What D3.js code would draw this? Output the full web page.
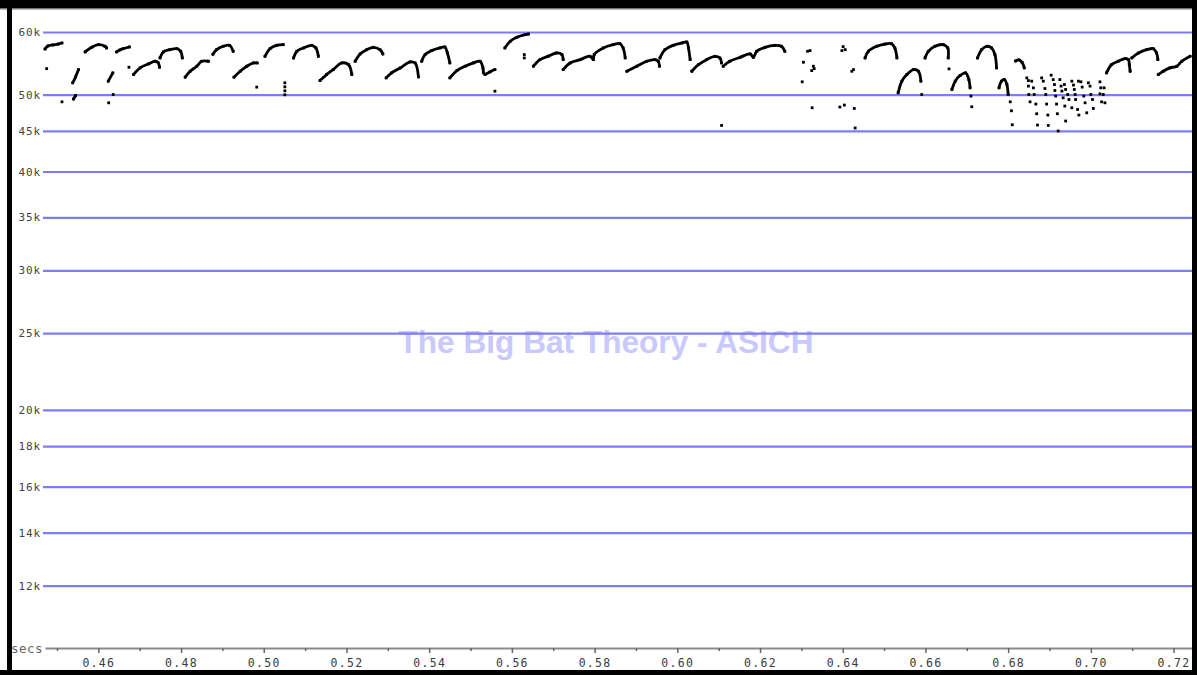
<!DOCTYPE html>
<html>
<head>
<meta charset="utf-8">
<script src="https://cdn.jsdelivr.net/npm/d3@7"></script>
<style>
  body { margin: 0; background: #fff; }
  #sonogram { width: 1197px; height: 675px; }
  #sonogram text { font-family: "DejaVu Sans Mono", monospace; }
</style>
</head>
<body>
<div id="sonogram"></div>
<script>

// ------------------------ data (time in secs, frequency in kHz) ------------------------------

var freqTicks = [12, 14, 16, 18, 20, 25, 30, 35, 40, 45, 50, 60];
var timeTicks = [0.46, 0.48, 0.50, 0.52, 0.54, 0.56, 0.58, 0.60, 0.62, 0.64, 0.66, 0.68, 0.70, 0.72];
var minorTicks = [0.45, 0.47, 0.49, 0.51, 0.53, 0.55, 0.57, 0.59, 0.61, 0.63, 0.65, 0.67, 0.69, 0.71];

// calls 0.447 - 0.538
var callsA = [
	[[.4471,57.11],[.4478,57.61],[.4490,57.78],[.4503,57.94],[.4512,58.11]],
	[[.4538,51.76],[.4545,52.66],[.4552,53.79]],
	[[.4540,49.38],[.4545,49.88]],
	[[.4568,56.62],[.4584,57.39],[.4600,57.83],[.4616,57.56],[.4620,57.28]],
	[[.4624,52.01],[.4635,53.28]],
	[[.4644,56.62],[.4652,56.95],[.4660,57.16],[.4675,57.44]],
	[[.4685,53.02],[.4701,54.05],[.4721,54.68],[.4737,55.11],[.4745,54.84],[.4748,54.16]],
	[[.4749,55.64],[.4757,56.62],[.4773,57.00],[.4790,57.16],[.4799,56.73],[.4803,55.64]],
	[[.4810,52.62],[.4822,53.53],[.4838,54.32],[.4850,55.11],[.4866,55.11]],
	[[.4877,56.24],[.4886,57.00],[.4902,57.56],[.4917,57.72],[.4926,56.73]],
	[[.4928,52.62],[.4943,53.53],[.4959,54.32],[.4975,54.84],[.4984,54.84]],
	[[.5003,55.91],[.5015,57.16],[.5031,57.72],[.5047,57.83]],
	[[.5072,55.64],[.5080,56.73],[.5096,57.28],[.5116,57.72],[.5126,57.28],[.5132,55.91]],
	[[.5136,52.10],[.5152,53.02],[.5168,53.79],[.5189,54.84],[.5205,54.57],[.5213,53.02]],
	[[.5221,55.11],[.5233,56.29],[.5249,57.00],[.5265,57.39],[.5281,57.00],[.5288,56.29]],
	[[.5296,52.51],[.5309,53.28],[.5330,54.05],[.5354,55.00],[.5366,54.84],[.5374,52.66]]
];

// calls 0.538 - 0.626
var callsB = [
	[[.5382,55.11],[.5390,56.18],[.5406,56.84],[.5426,57.28],[.5438,57.44],[.5444,56.45],[.5450,54.84]],
	[[.5450,52.51],[.5467,53.63],[.5487,54.32],[.5507,54.84],[.5523,55.11],[.5530,54.05],[.5531,53.28]],
	[[.5535,53.02],[.5547,53.43],[.5559,53.79]],
	[[.5583,57.28],[.5596,58.40],[.5612,59.09],[.5632,59.54],[.5640,59.65]],
	[[.5652,54.32],[.5668,55.37],[.5688,55.93],[.5708,56.45],[.5721,56.18],[.5724,55.37]],
	[[.5724,53.79],[.5741,54.84],[.5765,55.37],[.5789,55.91],[.5797,55.37],[.5799,56.18],[.5821,57.28],[.5845,57.83],[.5861,58.00],[.5869,57.28],[.5874,55.64]],
	[[.5878,53.53],[.5902,54.32],[.5926,55.11],[.5946,55.37],[.5954,55.11],[.5957,54.32]],
	[[.5958,55.64],[.5970,57.00],[.5990,57.72],[.6011,58.11],[.6023,58.28],[.6027,57.28],[.6031,55.37]],
	[[.6035,53.53],[.6051,54.57],[.6071,55.37],[.6091,55.91],[.6103,55.64],[.6107,54.84]],
	[[.6111,54.32],[.6127,55.11],[.6152,55.75],[.6176,56.29],[.6184,55.75],[.6192,56.73],[.6212,57.39],[.6236,57.72],[.6252,57.56],[.6260,56.73]]
];

// calls 0.645 - 0.724
var callsC = [
	[[.6454,55.64],[.6462,56.73],[.6482,57.56],[.6502,57.94],[.6518,57.99],[.6526,57.28],[.6531,55.64]],
	[[.6534,50.28],[.6543,52.01],[.6555,53.02],[.6571,53.79],[.6583,53.53],[.6589,52.01]],
	[[.6599,55.64],[.6607,56.73],[.6623,57.56],[.6643,57.83],[.6654,57.28],[.6655,55.64]],
	[[.6664,50.77],[.6672,52.01],[.6684,52.88],[.6697,53.28],[.6705,52.25],[.6708,51.01]],
	[[.6726,55.64],[.6736,57.00],[.6748,57.56],[.6760,57.28],[.6768,56.18],[.6772,54.05]],
	[[.6778,51.01],[.6784,52.01],[.6791,52.25],[.6797,51.50],[.6800,50.03]],
	[[.6818,55.16],[.6826,55.32],[.6834,54.89],[.6839,54.05]],
	[[.7038,53.28],[.7050,54.57],[.7066,55.11],[.7083,55.53],[.7091,55.37],[.7093,54.57],[.7095,53.53]],
	[[.7099,55.64],[.7115,56.45],[.7135,57.00],[.7151,57.16],[.7159,56.45],[.7162,55.37]],
	[[.7163,53.02],[.7175,53.53],[.7191,54.05],[.7208,54.32],[.7220,55.11],[.7240,55.91]]
];

// isolated points
var strayDots = [
	[.4475,53.94],[.4512,48.98],[.4625,48.84],[.4636,50.03],[.4674,54.16],[.4983,51.12],
	[.5051,51.76],[.5051,51.16],[.5051,50.57],[.5051,49.99],
	[.5559,50.52],[.5630,56.18],[.5630,55.64],[.6107,45.73],
	[.6315,56.73],[.6321,56.84],[.6305,54.95],[.6329,54.32],[.6325,53.63],[.6331,53.94],[.6302,51.91],[.6326,48.14],
	[.6401,57.50],[.6406,57.00],[.6398,56.84],[.6422,53.53],[.6426,53.79],[.6393,48.24],[.6404,48.52],[.6428,48.04],[.6430,45.39],
	[.6591,50.03],[.6657,53.90],[.6710,49.80],[.6712,48.28],
	[.6805,48.98],[.6808,47.72],[.6810,45.82],
	[.6845,52.51],[.6849,51.27],[.6850,50.03],[.6853,48.98]
];

// the broken-up feeding buzz around 0.685 - 0.703
var clusterDots = [
	[.6849,52.10],[.6857,52.01],[.6861,51.01],[.6863,50.03],[.6867,48.66],[.6869,47.31],[.6871,45.78],
	[.6881,52.51],[.6885,52.01],[.6889,50.91],[.6891,50.03],[.6893,48.66],[.6896,47.13],[.6897,45.73],
	[.6904,52.92],[.6909,52.25],[.6912,51.50],[.6913,50.62],[.6915,49.80],[.6917,48.66],[.6919,47.31],
	[.6925,52.25],[.6928,51.27],[.6930,50.53],[.6933,49.55],[.6937,48.38],[.6939,46.32],[.6921,45.00],
	[.6936,51.50],[.6939,50.77],[.6944,50.03],[.6947,49.31],[.6954,48.14],
	[.6954,52.01],[.6958,51.42],[.6960,50.77],[.6962,50.03],[.6963,49.31],[.6968,47.90],[.6971,47.13],
	[.6970,52.01],[.6976,51.91],[.6979,51.12],[.6983,49.80],[.6986,48.84],[.6990,47.44],
	[.6994,51.76],[.6998,51.27],[.7000,50.03],[.7004,49.31],[.7006,48.04],
	[.7022,51.91],[.7024,51.01],[.7022,50.13],[.7030,50.03],[.7034,48.84],[.7026,48.98],[.7032,51.01]
];


// ------------------------ #sonogram ------------------------------

var build_sonogram = function() {

	var svgWidth = 1197, svgHeight = 675;
	var plot = { left: 43, right: 1192, bottom: 648.4 };

	var svg = d3.select("#sonogram").append("svg")
			.attr("width", svgWidth)
			.attr("height", svgHeight)
			.attr("viewBox", "0 0 " + svgWidth + " " + svgHeight);

	svg.append("rect").attr("width", svgWidth).attr("height", svgHeight).attr("fill", "#fff");

	// set the ranges
	var x = d3.scaleLinear()
				.domain([0.4471, 0.7247])
				.range([45, 1193]);

	var y = d3.scaleLog()
				.domain([10, 60])
				.range([plot.bottom, 32]);

	// watermark (under the grid)
	svg.append("text")
			.attr("x", 606)
			.attr("y", 353)
			.attr("text-anchor", "middle")
			.attr("font-weight", "bold")
			.attr("font-size", "31px")
			.attr("fill", "#c9c9fc")
			.attr("textLength", 415)
			.attr("lengthAdjust", "spacingAndGlyphs")
			.style("font-family", "'Liberation Sans', Arial, sans-serif")
			.text("The Big Bat Theory - ASICH");

	// frequency grid lines + labels
	var axisY = svg.append("g")
				.attr("transform", "translate(" + plot.left + ",0)")
				.call(d3.axisLeft(y).tickValues(freqTicks).tickSize(-(plot.right - plot.left)).tickPadding(2)
					.tickFormat(function(d) { return d + "k"; }));
	axisY.select(".domain").remove();
	axisY.selectAll(".tick line").attr("stroke", "#7c7cfa").attr("stroke-width", 2.2);
	axisY.selectAll(".tick text")
			.attr("fill", "#444")
			.attr("font-size", "11px")
			.attr("letter-spacing", "0.9px")
			.attr("font-family", "DejaVu Sans Mono, monospace");

	// time axis
	var axisX = svg.append("g")
				.attr("transform", "translate(0," + 648 + ")")
				.call(d3.axisBottom(x).tickValues(timeTicks).tickSize(5).tickSizeOuter(0).tickPadding(6)
					.tickFormat(d3.format(".2f")));
	axisX.select(".domain").attr("stroke", "#8a8a8a").attr("stroke-width", 1.8);
	axisX.selectAll(".tick line").attr("stroke", "#666").attr("stroke-width", 1.5);
	axisX.selectAll(".tick text")
			.attr("fill", "#3a3a3a")
			.attr("font-size", "11.5px")
			.attr("letter-spacing", "1.3px")
			.attr("font-family", "DejaVu Sans Mono, monospace");

	var axisMinor = svg.append("g")
				.attr("transform", "translate(0," + 648 + ")")
				.call(d3.axisBottom(x).tickValues(minorTicks).tickSize(3).tickSizeOuter(0).tickFormat(""));
	axisMinor.select(".domain").remove();
	axisMinor.selectAll(".tick line").attr("stroke", "#666").attr("stroke-width", 1.5);

	svg.append("text")
			.attr("x", 43)
			.attr("y", 653)
			.attr("text-anchor", "end")
			.attr("fill", "#666")
			.attr("font-size", "12.5px")
			.attr("letter-spacing", "0.5px")
			.text("secs");

	// the calls
	var line = d3.line()
			.x(function(d) { return x(d[0]); })
			.y(function(d) { return y(d[1]); })
			.curve(d3.curveCatmullRom.alpha(0.5));

	var allCalls = callsA.concat(callsB, callsC);
	svg.append("g").selectAll(".call")
			.data(allCalls)
			.enter().append("path")
				.attr("class", "call")
				.attr("d", line)
				.attr("fill", "none")
				.attr("stroke", "#000")
				.attr("stroke-width", 2.8)
				.attr("stroke-linecap", "round")
				.attr("stroke-linejoin", "round");

	// every read point is also a dot, like the sonogram's own samples
	var callPoints = d3.merge(allCalls);
	svg.append("g").selectAll(".dot")
			.data(callPoints.concat(strayDots, clusterDots))
			.enter().append("rect")
				.attr("class", "dot")
				.attr("x", function(d) { return x(d[0]) - 1.4; })
				.attr("y", function(d) { return y(d[1]) - 1.4; })
				.attr("width", 2.8)
				.attr("height", 2.8)
				.attr("fill", "#000");

	// window frame
	var frame = svg.append("g");
	frame.append("rect").attr("x", 0).attr("y", 0).attr("width", svgWidth).attr("height", 8).attr("fill", "#000");
	frame.append("rect").attr("x", 0).attr("y", 8).attr("width", svgWidth).attr("height", 1.5).attr("fill", "#777");
	frame.append("rect").attr("x", 7).attr("y", 0).attr("width", 5).attr("height", svgHeight).attr("fill", "#000");
	frame.append("rect").attr("x", 1192).attr("y", 0).attr("width", 5).attr("height", svgHeight).attr("fill", "#000");
	frame.append("rect").attr("x", 0).attr("y", 670).attr("width", svgWidth).attr("height", 5).attr("fill", "#000");

}

build_sonogram();
</script>
</body>
</html>
